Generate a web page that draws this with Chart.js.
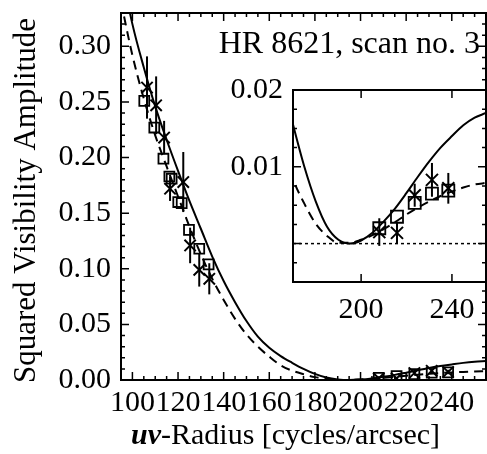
<!DOCTYPE html>
<html><head><meta charset="utf-8">
<script src="https://cdn.jsdelivr.net/npm/chart.js@4.4.1/dist/chart.umd.min.js"></script>
<style>
html,body{margin:0;padding:0;background:#fff;}
#wrap{position:relative;width:487px;height:454px;overflow:hidden;}
#main{position:absolute;left:0;top:0;}
#inset{position:absolute;left:217px;top:70px;}
</style></head><body>
<div id="wrap">
<canvas id="main" width="487" height="454"></canvas>
<canvas id="inset" width="270" height="260"></canvas>
</div>
<script>
// ---- data ----
const modelR   = [95,100,105,110,115,120,125,130,135,140,145,150,155,160,165,170,175,180,185,190,195,200,205,210,215,220,225,230,235,240,245,250,255];
const solidV2  = [0.370,0.320,0.281,0.246,0.216,0.188,0.161,0.136,0.111,0.089,0.070,0.053,0.039,0.029,0.0215,0.0155,0.0100,0.0055,0.0022,0.0005,0.0000,0.0004,0.0014,0.0029,0.0046,0.0066,0.0087,0.0107,0.0125,0.0140,0.0154,0.0164,0.0170];
const dashedV2 = [0.340,0.292,0.253,0.220,0.192,0.165,0.138,0.113,0.091,0.072,0.055,0.041,0.030,0.021,0.0132,0.0084,0.0052,0.0026,0.0010,0.0001,0.0001,0.0005,0.0011,0.0019,0.0028,0.0038,0.0047,0.0055,0.0062,0.0068,0.0073,0.0077,0.0079];

const squareR  = [105.2,109.6,113.6,116.2,117.2,120.1,121.6,124.8,129.3,133.4,208,215.8,223.6,231.2,238.4];
const squareV2 = [0.251,0.227,0.199,0.183,0.181,0.160,0.159,0.135,0.118,0.104,0.0020,0.0035,0.0053,0.0065,0.0069];

const crossR   = [106.4,110.4,113.9,116.5,122.3,125.3,129.3,133.7,208,215.8,223.6,231.2,238.4];
const crossV2  = [0.263,0.247,0.218,0.172,0.178,0.121,0.099,0.091,0.0015,0.0014,0.0063,0.0083,0.0072];
const crossErr = [0.028,0.026,0.015,0.011,0.027,0.016,0.015,0.014,0.0018,0.0014,0.0015,0.0022,0.0020];

const mainXTicks  = [100,120,140,160,180,200,220,240];
const mainYTicks  = [0.00,0.05,0.10,0.15,0.20,0.25,0.30];
const insetXTicks = [200,240];
const insetYTicks = [0.01,0.02];

const titleText = 'HR 8621, scan no. 3';
const yTitle = 'Squared Visibility Amplitude';
const xTitleA = 'uv';
const xTitleB = '-Radius [cycles/arcsec]';

// ---- helpers ----
const FONT = '"Liberation Serif", "Times New Roman", serif';
const xy = (xs, ys) => xs.map((v, i) => ({x: v, y: ys[i]}));

function makeDatasets(sqRad, crRad) {
  return [
    {data: xy(modelR, solidV2), showLine: true, borderColor: '#000', borderWidth: 2, pointRadius: 0, cubicInterpolationMode: 'monotone', fill: false},
    {data: xy(modelR, dashedV2), showLine: true, borderColor: '#000', borderWidth: 2, borderDash: [9, 6], pointRadius: 0, cubicInterpolationMode: 'monotone', fill: false},
    {data: xy(squareR, squareV2), showLine: false, pointStyle: 'rect', pointRadius: sqRad, pointBorderColor: '#000', pointBorderWidth: 1.8, pointBackgroundColor: 'rgba(0,0,0,0)'},
    {data: xy(crossR, crossV2), showLine: false, pointStyle: 'crossRot', pointRadius: crRad, pointBorderColor: '#000', pointBorderWidth: 2, errors: crossErr}
  ];
}

const errorBars = {
  id: 'errorBars',
  afterDatasetsDraw(chart) {
    const {ctx, chartArea: a, scales: {x, y}} = chart;
    ctx.save();
    ctx.beginPath(); ctx.rect(a.left, a.top, a.right - a.left, a.bottom - a.top); ctx.clip();
    ctx.strokeStyle = '#000'; ctx.lineWidth = 2;
    chart.data.datasets.forEach(ds => {
      if (!ds.errors) return;
      ds.data.forEach((p, i) => {
        const px = x.getPixelForValue(p.x);
        ctx.beginPath();
        ctx.moveTo(px, y.getPixelForValue(p.y - ds.errors[i]));
        ctx.lineTo(px, y.getPixelForValue(p.y + ds.errors[i]));
        ctx.stroke();
      });
    });
    ctx.restore();
  }
};

function isMult(v, step) { const r = v / step; return Math.abs(r - Math.round(r)) < 1e-6; }

const frame = {
  id: 'frame',
  beforeDraw(chart, args, o) {
    if (o.fillWhite) {
      const {ctx, chartArea: a} = chart;
      ctx.save(); ctx.fillStyle = '#fff';
      ctx.fillRect(a.left, a.top, a.right - a.left, a.bottom - a.top);
      ctx.restore();
    }
  },
  afterDraw(chart, args, o) {
    const {ctx, chartArea: a, scales: {x, y}} = chart;
    ctx.save();
    ctx.strokeStyle = '#000';
    if (o.zeroLine) {
      ctx.lineWidth = 1.5; ctx.setLineDash([3, 3]);
      const py = y.getPixelForValue(0);
      ctx.beginPath(); ctx.moveTo(a.left, py); ctx.lineTo(a.right, py); ctx.stroke();
      ctx.setLineDash([]);
    }
    ctx.lineWidth = 1.5;
    ctx.beginPath();
    for (let k = Math.ceil(x.min / o.xMinor - 1e-9); k * o.xMinor <= x.max + 1e-9; k++) {
      const v = k * o.xMinor, px = x.getPixelForValue(v);
      const len = isMult(v, o.xMajor) ? o.majorLen : o.minorLen;
      ctx.moveTo(px, a.bottom); ctx.lineTo(px, a.bottom - len);
      ctx.moveTo(px, a.top); ctx.lineTo(px, a.top + len);
    }
    for (let k = Math.ceil(y.min / o.yMinor - 1e-9); k * o.yMinor <= y.max + 1e-9; k++) {
      const v = k * o.yMinor, py = y.getPixelForValue(v);
      const len = isMult(v, o.yMajor) ? o.majorLen : o.minorLen;
      ctx.moveTo(a.left, py); ctx.lineTo(a.left + len, py);
      ctx.moveTo(a.right, py); ctx.lineTo(a.right - len, py);
    }
    ctx.stroke();
    ctx.lineWidth = 2;
    ctx.strokeRect(a.left, a.top, a.right - a.left, a.bottom - a.top);
    ctx.restore();
  }
};

const texts = {
  id: 'texts',
  afterDraw(chart) {
    const {ctx, chartArea: a} = chart;
    ctx.save();
    ctx.fillStyle = '#000';
    ctx.font = '32px ' + FONT;
    ctx.textAlign = 'right'; ctx.textBaseline = 'alphabetic';
    ctx.fillText(titleText, a.right - 6, 53);
    // y title
    ctx.save();
    ctx.font = '31px ' + FONT;
    ctx.translate(35, (a.top + a.bottom) / 2 + 4);
    ctx.rotate(-Math.PI / 2);
    ctx.textAlign = 'center';
    ctx.fillText(yTitle, 0, 0);
    ctx.restore();
    // x title with bold-italic "uv"
    ctx.font = 'italic bold 30px ' + FONT;
    const w1 = ctx.measureText(xTitleA).width;
    ctx.font = '30px ' + FONT;
    const w2 = ctx.measureText(xTitleB).width;
    const x0 = (a.left + a.right) / 2 - 18 - (w1 + w2) / 2;
    ctx.textAlign = 'left';
    ctx.font = 'italic bold 30px ' + FONT;
    ctx.fillText(xTitleA, x0, 444);
    ctx.font = '30px ' + FONT;
    ctx.fillText(xTitleB, x0 + w1, 444);
    ctx.restore();
  }
};

function axisCfg(min, max, tickVals, fmt, pad, fitFn) {
  return {
    type: 'linear', min, max,
    grid: {display: false, drawTicks: false},
    border: {display: false},
    afterBuildTicks: s => { s.ticks = tickVals.map(v => ({value: v})); },
    afterFit: s => { fitFn(s); s.paddingTop = 0; s.paddingBottom = 0; s.paddingLeft = 0; s.paddingRight = 0; },
    ticks: {color: '#000', font: {family: FONT, size: 30}, padding: pad, autoSkip: false, maxRotation: 0, minRotation: 0, callback: fmt}
  };
}

// ---- main chart ----
new Chart(document.getElementById('main'), {
  type: 'scatter',
  data: {datasets: makeDatasets(7, 8)},
  options: {
    responsive: false, animation: false, devicePixelRatio: 1,
    layout: {autoPadding: false, padding: {top: 13, right: 1, left: 0, bottom: 0}},
    plugins: {legend: {display: false}, tooltip: {enabled: false},
      frame: {xMajor: 20, xMinor: 5, yMajor: 0.05, yMinor: 0.01, majorLen: 8, minorLen: 4}},
    scales: {
      x: axisCfg(95, 255, mainXTicks, v => String(v), 5, s => { s.height = 74; }),
      y: axisCfg(0, 0.33, mainYTicks, v => v.toFixed(2), 10, s => { s.width = 121; })
    }
  },
  plugins: [frame, errorBars, texts]
});

// ---- inset chart ----
new Chart(document.getElementById('inset'), {
  type: 'scatter',
  data: {datasets: makeDatasets(8.5, 8.5)},
  options: {
    responsive: false, animation: false, devicePixelRatio: 1,
    layout: {autoPadding: false, padding: {top: 20, right: 1, left: 0, bottom: 0}},
    plugins: {legend: {display: false}, tooltip: {enabled: false},
      frame: {xMajor: 40, xMinor: 40, yMajor: 0.01, yMinor: 0.0025, majorLen: 8, minorLen: 4, fillWhite: true, zeroLine: true}},
    scales: {
      x: axisCfg(170, 255, insetXTicks, v => String(v), 10, s => { s.height = 48; }),
      y: axisCfg(-0.005, 0.02, insetYTicks, v => v.toFixed(2), 10, s => { s.width = 76; })
    }
  },
  plugins: [frame, errorBars]
});
</script>
</body></html>
